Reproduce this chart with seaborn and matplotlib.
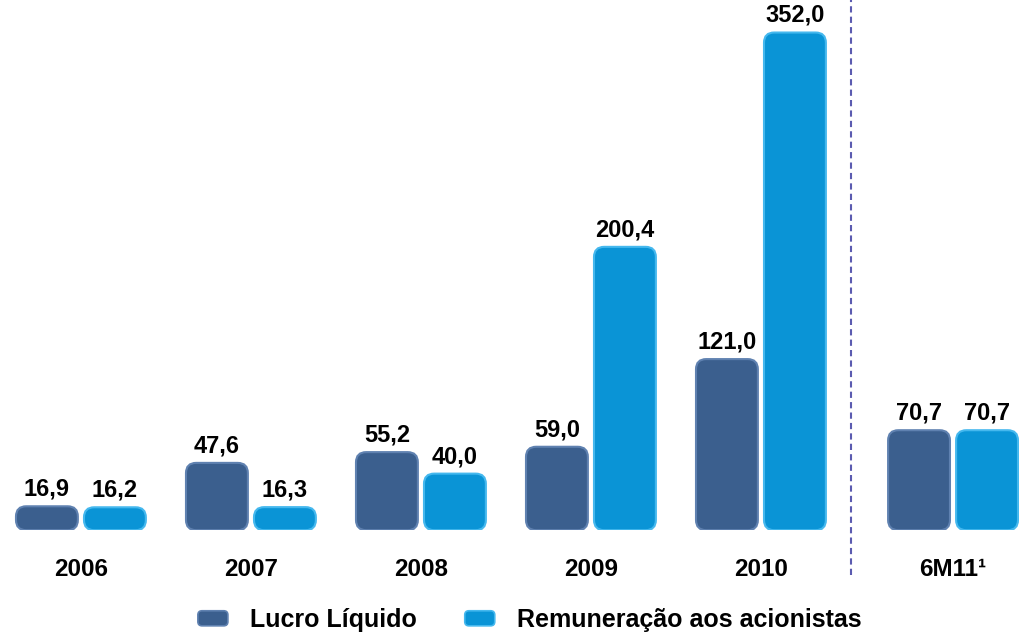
import pandas as pd
import seaborn as sns
import matplotlib.pyplot as plt
from matplotlib.patches import FancyBboxPatch, Patch
from matplotlib.legend_handler import HandlerPatch

# Chart data
periods = ["2006", "2007", "2008", "2009", "2010", "6M11\u00b9"]
lucro = [16.9, 47.6, 55.2, 59.0, 121.0, 70.7]
remuneracao = [16.2, 16.3, 40.0, 200.4, 352.0, 70.7]
series = ["Lucro Líquido", "Remuneração aos acionistas"]

# Layout / style
group_pos = [0, 1, 2, 3, 4, 5.13]
divider_x = 4.53
colors = ["#3B5F8E", "#0A94D6"]
edge_colors = ["#5F81B0", "#45B8EE"]

df = pd.DataFrame({
    "pos": group_pos * 2,
    "valor": lucro + remuneracao,
    "serie": [series[0]] * len(periods) + [series[1]] * len(periods),
})

sns.set_style("white")
plt.rcParams["font.family"] = ["Liberation Sans", "DejaVu Sans"]
plt.rcParams["text.color"] = "black"
plt.rcParams["xtick.color"] = "black"

fig = plt.figure(figsize=(10.19, 6.38), dpi=100)
ax = fig.add_axes([0, 0.169, 1, 0.831])

sns.barplot(data=df, x="pos", y="valor", hue="serie", hue_order=series,
            native_scale=True, palette=colors, gap=0.09, legend=False, ax=ax)

ax.set_xlim(-0.476, 5.518)
ax.set_ylim(0, 375)

# value labels (pt-BR decimal comma)
for container in ax.containers:
    labels = [f"{v:.1f}".replace(".", ",") for v in container.datavalues]
    ax.bar_label(container, labels=labels, padding=4, fontsize=17,
                 fontweight="bold", color="black")

# swap the square bars for rounded ones of the same geometry
fig.canvas.draw()
bbox = ax.get_window_extent()
x_ppu = bbox.width / (ax.get_xlim()[1] - ax.get_xlim()[0])
y_ppu = bbox.height / (ax.get_ylim()[1] - ax.get_ylim()[0])
asp = x_ppu / y_ppu
for container, fc, ec in zip(ax.containers, colors, edge_colors):
    for bar in container:
        bar.set_visible(False)
        rounded = FancyBboxPatch(
            (bar.get_x(), bar.get_y()), bar.get_width(), bar.get_height(),
            boxstyle="round,pad=0,rounding_size=0.06", mutation_aspect=asp,
            fc=fc, ec=ec, lw=1.5, zorder=2)
        ax.add_patch(rounded)

# dashed divider before the half-year group
ax.plot([divider_x, divider_x], [-0.085, 1], transform=ax.get_xaxis_transform(),
        ls=(0, (3, 2)), color="#5B5BB0", lw=1.5, clip_on=False)

ax.set_xticks(group_pos, periods)
ax.tick_params(axis="x", length=0, pad=20, labelsize=17.5, labelcolor="black")
for lbl in ax.get_xticklabels():
    lbl.set_fontweight("bold")
ax.set_yticks([])
ax.set_xlabel("")
ax.set_ylabel("")
sns.despine(ax=ax, left=True, bottom=True)


def round_handle(legend, orig_handle, xdescent, ydescent, width, height, fontsize):
    return FancyBboxPatch((-xdescent, -ydescent), width, height,
                          boxstyle="round,pad=0,rounding_size=3")


handles = [Patch(fc=c, ec=e, lw=1.2) for c, e in zip(colors, edge_colors)]
leg = fig.legend(handles, series, loc="center", bbox_to_anchor=(0.52, 0.028), ncol=2,
                 frameon=False, prop={"size": 18, "weight": "bold"},
                 handlelength=1.2, handleheight=0.55, handletextpad=0.9,
                 columnspacing=1.9,
                 handler_map={Patch: HandlerPatch(patch_func=round_handle)})
for t in leg.get_texts():
    t.set_color("black")

fig.savefig("out.png", dpi=100)
